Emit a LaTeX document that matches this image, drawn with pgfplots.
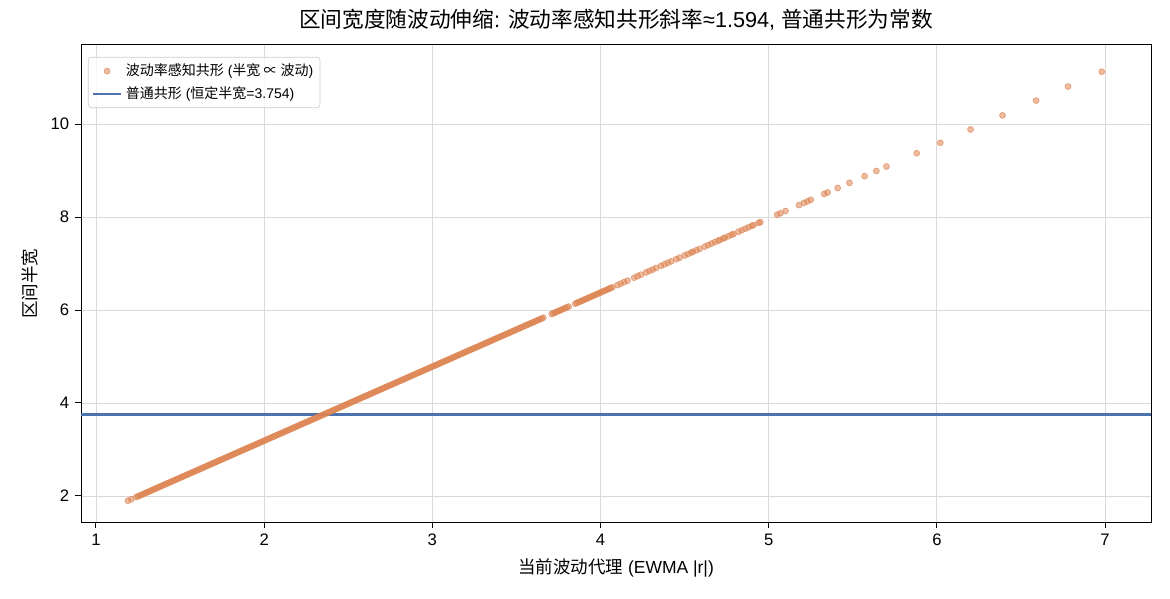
\documentclass[border=0pt]{standalone}
\usepackage{fontspec}
\setmainfont{Liberation Sans}
\newfontfamily\cjk{Noto Sans CJK SC}
\usepackage{pgfplots}
\usepackage{pgfplotstable}
\pgfplotsset{compat=1.18}
\definecolor{corange}{HTML}{DD8452}
\definecolor{cblue}{HTML}{4C72B0}
\pgfplotstableread{
x y
1.19 1.897
1.21 1.929
1.24 1.977
1.26 2.008
1.28 2.040
1.30 2.072
1.32 2.104
1.34 2.136
1.36 2.168
1.38 2.200
1.40 2.232
1.42 2.263
1.44 2.295
1.46 2.327
1.48 2.359
1.50 2.391
1.52 2.423
1.54 2.455
1.56 2.487
1.58 2.519
1.60 2.550
1.62 2.582
1.64 2.614
1.66 2.646
1.68 2.678
1.70 2.710
1.72 2.742
1.74 2.774
1.76 2.805
1.78 2.837
1.80 2.869
1.82 2.901
1.84 2.933
1.86 2.965
1.88 2.997
1.90 3.029
1.92 3.060
1.94 3.092
1.96 3.124
1.98 3.156
2.00 3.188
2.02 3.220
2.04 3.252
2.06 3.284
2.08 3.316
2.10 3.347
2.12 3.379
2.14 3.411
2.16 3.443
2.18 3.475
2.20 3.507
2.22 3.539
2.24 3.571
2.26 3.602
2.28 3.634
2.30 3.666
2.32 3.698
2.34 3.730
2.36 3.762
2.38 3.794
2.40 3.826
2.42 3.857
2.44 3.889
2.46 3.921
2.48 3.953
2.50 3.985
2.52 4.017
2.54 4.049
2.56 4.081
2.58 4.113
2.60 4.144
2.62 4.176
2.64 4.208
2.66 4.240
2.68 4.272
2.70 4.304
2.72 4.336
2.74 4.368
2.76 4.399
2.78 4.431
2.80 4.463
2.82 4.495
2.84 4.527
2.86 4.559
2.88 4.591
2.90 4.623
2.92 4.654
2.94 4.686
2.96 4.718
2.98 4.750
3.00 4.782
3.02 4.814
3.04 4.846
3.06 4.878
3.08 4.910
3.10 4.941
3.12 4.973
3.14 5.005
3.16 5.037
3.18 5.069
3.20 5.101
3.22 5.133
3.24 5.165
3.26 5.196
3.28 5.228
3.30 5.260
3.32 5.292
3.34 5.324
3.36 5.356
3.38 5.388
3.40 5.420
3.42 5.451
3.44 5.483
3.46 5.515
3.48 5.547
3.50 5.579
3.52 5.611
3.54 5.643
3.56 5.675
3.58 5.707
3.60 5.738
3.62 5.770
3.64 5.802
3.66 5.834
3.71 5.914
3.73 5.946
3.75 5.978
3.77 6.009
3.79 6.041
3.81 6.073
3.85 6.137
3.87 6.169
3.89 6.201
3.91 6.233
3.93 6.264
3.95 6.296
3.97 6.328
3.99 6.360
4.01 6.392
4.03 6.424
4.05 6.456
4.07 6.488
4.10 6.535
4.12 6.567
4.14 6.599
4.16 6.631
4.20 6.695
4.22 6.727
4.24 6.759
4.27 6.806
4.29 6.838
4.31 6.870
4.33 6.902
4.36 6.950
4.38 6.982
4.40 7.014
4.42 7.045
4.45 7.093
4.47 7.125
4.50 7.173
4.52 7.205
4.54 7.237
4.55 7.253
4.57 7.285
4.59 7.316
4.62 7.364
4.64 7.396
4.66 7.428
4.68 7.460
4.70 7.492
4.71 7.508
4.73 7.540
4.74 7.556
4.76 7.587
4.78 7.619
4.79 7.635
4.82 7.683
4.84 7.715
4.86 7.747
4.88 7.779
4.90 7.811
4.91 7.827
4.94 7.874
4.95 7.890
5.05 8.050
5.07 8.082
5.10 8.129
5.18 8.257
5.21 8.305
5.23 8.337
5.25 8.369
5.33 8.496
5.35 8.528
5.41 8.624
5.48 8.735
5.57 8.879
5.64 8.990
5.70 9.086
5.88 9.373
6.02 9.596
6.20 9.883
6.39 10.186
6.59 10.504
6.78 10.807
6.98 11.126
1.25 1.993
1.27 2.024
1.29 2.056
1.31 2.088
1.33 2.120
1.35 2.152
1.37 2.184
1.39 2.216
1.41 2.248
1.43 2.279
1.45 2.311
1.47 2.343
1.49 2.375
1.51 2.407
1.53 2.439
1.55 2.471
1.57 2.503
1.59 2.534
1.61 2.566
1.63 2.598
1.65 2.630
1.67 2.662
1.69 2.694
1.71 2.726
1.73 2.758
1.75 2.790
1.77 2.821
1.79 2.853
1.81 2.885
1.83 2.917
1.85 2.949
1.87 2.981
1.89 3.013
1.91 3.045
1.93 3.076
1.95 3.108
1.97 3.140
1.99 3.172
2.01 3.204
2.03 3.236
2.05 3.268
2.07 3.300
2.09 3.331
2.11 3.363
2.13 3.395
2.15 3.427
2.17 3.459
2.19 3.491
2.21 3.523
2.23 3.555
2.25 3.587
2.27 3.618
2.29 3.650
2.31 3.682
2.33 3.714
2.35 3.746
2.37 3.778
2.39 3.810
2.41 3.842
2.43 3.873
2.45 3.905
2.47 3.937
2.49 3.969
2.51 4.001
2.53 4.033
2.55 4.065
2.57 4.097
2.59 4.128
2.61 4.160
2.63 4.192
2.65 4.224
2.67 4.256
2.69 4.288
2.71 4.320
2.73 4.352
2.75 4.384
2.77 4.415
2.79 4.447
2.81 4.479
2.83 4.511
2.85 4.543
2.87 4.575
2.89 4.607
2.91 4.639
2.93 4.670
2.95 4.702
2.97 4.734
2.99 4.766
3.01 4.798
3.03 4.830
3.05 4.862
3.07 4.894
3.09 4.925
3.11 4.957
3.13 4.989
3.15 5.021
3.17 5.053
3.19 5.085
3.21 5.117
3.23 5.149
3.25 5.181
3.27 5.212
3.29 5.244
3.31 5.276
3.33 5.308
3.35 5.340
3.37 5.372
3.39 5.404
3.41 5.436
3.43 5.467
3.45 5.499
3.47 5.531
3.49 5.563
3.51 5.595
3.53 5.627
3.55 5.659
3.57 5.691
3.59 5.722
3.61 5.754
3.63 5.786
3.65 5.818
3.72 5.930
3.74 5.962
3.76 5.993
3.78 6.025
3.80 6.057
3.86 6.153
3.88 6.185
3.90 6.217
3.92 6.248
3.94 6.280
3.96 6.312
3.98 6.344
4.00 6.376
4.02 6.408
4.04 6.440
4.06 6.472
}\scatterdata
\begin{document}
\begin{tikzpicture}
\begin{axis}[name=ax, scale only axis, width=642pt, height=286.2pt,
  xmin=0.911, xmax=7.273, ymin=1.44, ymax=11.70,
  xtick={1,2,3,4,5,6,7}, ytick={2,4,6,8,10},
  grid=major, grid style={draw=black!15, line width=0.5pt},
  axis line style={line width=0.6pt},
  tick style={black, line width=0.6pt}, tick align=outside, major tick length=3.6pt,
  xtick pos=bottom, ytick pos=left,
  ticklabel style={font=\fontsize{10}{11}\selectfont},
  /pgf/number format/assume math mode=true,
  title={{\cjk 区间宽度随波动伸缩}: {\cjk 波动率感知共形斜率}≈1.594, {\cjk 普通共形为常数}},
  title style={at={(axis description cs:0.5,1.0314)}, anchor=center, font=\fontsize{13}{15}\selectfont},
  xlabel={{\cjk 当前波动代理} (EWMA |r|)},
  xlabel style={at={(axis description cs:0.5,-0.0964)}, anchor=center, font=\fontsize{10.5}{12}\selectfont},
  ylabel={\cjk 区间半宽},
  ylabel style={at={(axis description cs:-0.0477,0.5)}, anchor=center, font=\fontsize{10.5}{12}\selectfont},
  legend style={at={(axis description cs:0.0065,0.975)}, anchor=north west, draw=black!20,
    rounded corners=2pt, font=\fontsize{8.4}{9.7}\selectfont, fill=white, fill opacity=0.8,
    text opacity=1, inner sep=2pt, row sep=1pt},
  legend cell align=left,
]
\addplot[only marks, mark=*, mark size=1.8pt,
  mark options={fill=corange, draw=corange, fill opacity=0.55, draw opacity=0.7}]
  table[x=x, y=y] {\scatterdata};
\addlegendentry{{\cjk 波动率感知共形} ({\cjk 半宽 ∝ 波动})}
\addplot[cblue, line width=1.5pt, no markers] coordinates {(0.911,3.754) (7.273,3.754)};
\addlegendentry{{\cjk 普通共形} ({\cjk 恒定半宽}=3.754)}
\end{axis}
\path (ax.south west) ++(-48.6pt,-45.6pt);
\path (ax.north east) ++(11.4pt,27pt);
\end{tikzpicture}
\end{document}
